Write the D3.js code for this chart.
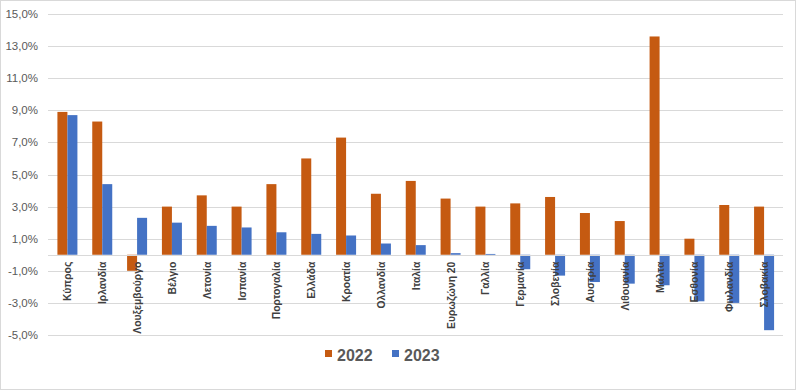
<!DOCTYPE html>
<html><head><meta charset="utf-8">
<script src="https://cdn.jsdelivr.net/npm/d3@7"></script>
<style>body{margin:0;background:#fff}svg{display:block}</style>
</head><body><svg id="c" width="796" height="390"></svg>
<script>
const categories = ["Κύπρος","Ιρλανδία","Λουξεμβούργο","Βέλγιο","Λετονία","Ισπανία","Πορτογαλία","Ελλάδα","Κροατία","Ολλανδία","Ιταλία","Ευρωζώνη 20","Γαλλία","Γερμανία","Σλοβενία","Αυστρία","Λιθουανία","Μάλτα","Εσθονία","Φινλανδία","Σλοβακία"];
const seriesNames = ["2022","2023"];
const values2022 = [8.9,8.3,-1.0,3.0,3.7,3.0,4.4,6.0,7.3,3.8,4.6,3.5,3.0,3.2,3.6,2.6,2.1,13.6,1.0,3.1,3.0];
const values2023 = [8.7,4.4,2.3,2.0,1.8,1.7,1.4,1.3,1.2,0.7,0.6,0.1,0.05,-0.9,-1.3,-1.7,-1.8,-1.9,-2.9,-3.0,-4.7];
const yTicks = [-5,-3,-1,1,3,5,7,9,11,13,15];
const colors = ["#C55A11","#4472C4"];

const svg = d3.select("#c");
svg.append("rect").attr("x",0.5).attr("y",0.5).attr("width",795).attr("height",389)
  .attr("fill","#fff").attr("stroke","#d9d9d9");

const left = 50, right = 781.5;
const y = d3.scaleLinear().domain([-5,15]).range([335,14]);
const x0 = d3.scaleBand().domain(categories).range([left,right]).paddingInner(0.426).paddingOuter(0.213);
const x1 = d3.scaleBand().domain(seriesNames).range([0,x0.bandwidth()]);

// gridlines
svg.append("g").selectAll("line").data(yTicks).join("line")
  .attr("x1",48).attr("x2",783).attr("y1",d=>Math.round(y(d))+0.5).attr("y2",d=>Math.round(y(d))+0.5)
  .attr("stroke","#d9d9d9").attr("stroke-width",1);

// y labels
svg.append("g").selectAll("text").data(yTicks).join("text")
  .attr("x",38).attr("y",d=>y(d)+4).attr("text-anchor","end")
  .attr("font-family","Liberation Sans, Arial, sans-serif").attr("font-size",11.5).attr("fill","#595959")
  .text(d=>d.toFixed(1).replace(".",",")+"%");

// bars
const data = categories.map((c,i)=>({c, v:[values2022[i],values2023[i]]}));
const g = svg.append("g");
data.forEach(d=>{
  seriesNames.forEach((s,j)=>{
    const v = d.v[j];
    g.append("rect")
      .attr("x",x0(d.c)+x1(s)).attr("width",x1.bandwidth())
      .attr("y",y(Math.max(0,v))).attr("height",Math.abs(y(v)-y(0)))
      .attr("fill",colors[j]);
  });
});

// zero axis
svg.append("line").attr("x1",48).attr("x2",783).attr("y1",Math.round(y(0))+0.5).attr("y2",Math.round(y(0))+0.5)
  .attr("stroke","#d9d9d9");

// category labels
const labels = svg.append("g").selectAll("text").data(categories).join("text")
  .attr("transform",d=>`translate(${x0(d)+x0.bandwidth()/2+4},${y(0)+7}) rotate(-90)`)
  .attr("text-anchor","end")
  .attr("font-family","Liberation Sans, Arial, sans-serif").attr("font-size",11).attr("font-weight","bold")
  .attr("fill","#404040")
  .text(d=>d);
// fit font so the longest label matches the reference length (~72px)
const ref = labels.filter(d=>d==="Λουξεμβούργο").node();
const len = ref.getComputedTextLength();
if (len > 0) labels.attr("font-size", Math.max(9, Math.min(13, 11*72/len)));

// legend
const lg = svg.append("g");
seriesNames.forEach((s,i)=>{
  const lx = 325 + i*67;
  lg.append("rect").attr("x",lx).attr("y",350).attr("width",7).attr("height",7).attr("fill",colors[i]);
  lg.append("text").attr("x",lx+12).attr("y",361).attr("font-family","Liberation Sans, Arial, sans-serif")
    .attr("font-size",16).attr("font-weight","bold").attr("fill","#595959").text(s);
});
</script></body></html>
